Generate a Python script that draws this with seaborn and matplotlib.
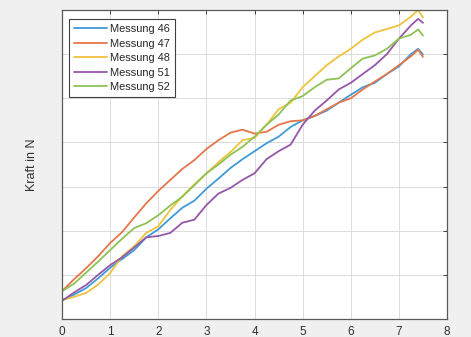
import numpy as np
import pandas as pd
import matplotlib
matplotlib.use("Agg")
import matplotlib.pyplot as plt
import seaborn as sns

# Weg (x) sampling points shared by all measurements
weg = [0, 0.25, 0.5, 0.75, 1, 1.25, 1.5, 1.75, 2, 2.25, 2.5, 2.75, 3, 3.25, 3.5,
       3.75, 4, 4.25, 4.5, 4.75, 5, 5.25, 5.5, 5.75, 6, 6.25, 6.5, 6.75, 7,
       7.25, 7.4, 7.5]

messung_46 = [0.43, 0.55, 0.70, 0.92, 1.16, 1.36, 1.56, 1.85, 2.03, 2.28, 2.52,
              2.68, 2.95, 3.18, 3.42, 3.62, 3.80, 3.98, 4.13, 4.35, 4.50, 4.60,
              4.72, 4.90, 5.08, 5.25, 5.35, 5.55, 5.72, 6.00, 6.12, 5.99]
messung_47 = [0.63, 0.90, 1.15, 1.42, 1.72, 1.97, 2.30, 2.62, 2.90, 3.15, 3.40,
              3.60, 3.85, 4.05, 4.22, 4.29, 4.20, 4.24, 4.40, 4.48, 4.50, 4.60,
              4.75, 4.90, 5.00, 5.20, 5.38, 5.55, 5.75, 5.95, 6.10, 5.94]
messung_48 = [0.43, 0.50, 0.59, 0.78, 1.04, 1.42, 1.65, 1.95, 2.10, 2.47, 2.78,
              3.05, 3.30, 3.55, 3.78, 4.05, 4.10, 4.40, 4.75, 4.90, 5.25, 5.50,
              5.75, 5.95, 6.12, 6.33, 6.49, 6.57, 6.65, 6.85, 7.00, 6.83]
messung_51 = [0.41, 0.60, 0.77, 1.00, 1.22, 1.40, 1.62, 1.85, 1.88, 1.95, 2.18,
              2.25, 2.58, 2.84, 2.97, 3.15, 3.30, 3.62, 3.80, 3.95, 4.40, 4.72,
              4.95, 5.20, 5.35, 5.55, 5.75, 6.00, 6.35, 6.65, 6.80, 6.71]
messung_52 = [0.63, 0.80, 1.05, 1.30, 1.56, 1.82, 2.06, 2.17, 2.35, 2.57, 2.77,
              3.03, 3.30, 3.50, 3.72, 3.90, 4.13, 4.40, 4.63, 4.95, 5.05, 5.25,
              5.42, 5.45, 5.68, 5.90, 5.97, 6.12, 6.35, 6.44, 6.56, 6.42]

labels = ["Messung 46", "Messung 47", "Messung 48", "Messung 51", "Messung 52"]
series = [messung_46, messung_47, messung_48, messung_51, messung_52]
colors = ["#3f9bd8", "#e4764a", "#efc33e", "#9557a8", "#8dc255"]

df = pd.concat(
    [pd.DataFrame({"Weg": weg, "Kraft": vals, "Messung": lab})
     for lab, vals in zip(labels, series)],
    ignore_index=True,
)

sns.set_style("whitegrid")
plt.rcParams["font.family"] = ["Liberation Sans", "DejaVu Sans"]

fig = plt.figure(figsize=(4.71, 3.37), dpi=100, facecolor="#f0f0f0")
ax = fig.add_axes([62 / 471, 1 - 319 / 337, 385 / 471, 309 / 337])
ax.set_facecolor("white")

sns.lineplot(data=df, x="Weg", y="Kraft", hue="Messung", palette=colors,
             linewidth=1.3, ax=ax, sort=False, estimator=None)

ax.set_xlim(0, 8)
ax.set_ylim(0, 7)
ax.set_xticks(range(0, 9))
ax.set_yticks(range(0, 8))
ax.set_yticklabels([])
ax.grid(True, color="#dcdcdc", linewidth=0.7)
ax.tick_params(axis="both", direction="in", length=3, width=0.7,
               color="#404040", top=True, right=True, labelsize=8.5,
               labelcolor="#303030", pad=5)
for side in ax.spines.values():
    side.set_visible(True)
    side.set_color("#5a5a5a")
    side.set_linewidth(0.9)

ax.set_xlabel("")
ax.set_ylabel("Kraft in N", fontsize=9, color="#303030", labelpad=12.5)

leg = ax.legend(loc="upper left", bbox_to_anchor=(0.018, 0.971),
                borderaxespad=0, fontsize=7.9, handlelength=3.0,
                handletextpad=0.3, labelspacing=0.42, borderpad=0.45,
                frameon=True, fancybox=False, edgecolor="#404040",
                framealpha=1)
leg.get_frame().set_linewidth(0.8)
for line in leg.get_lines():
    line.set_linewidth(1.3)

fig.savefig("out.png", dpi=100, facecolor=fig.get_facecolor())
